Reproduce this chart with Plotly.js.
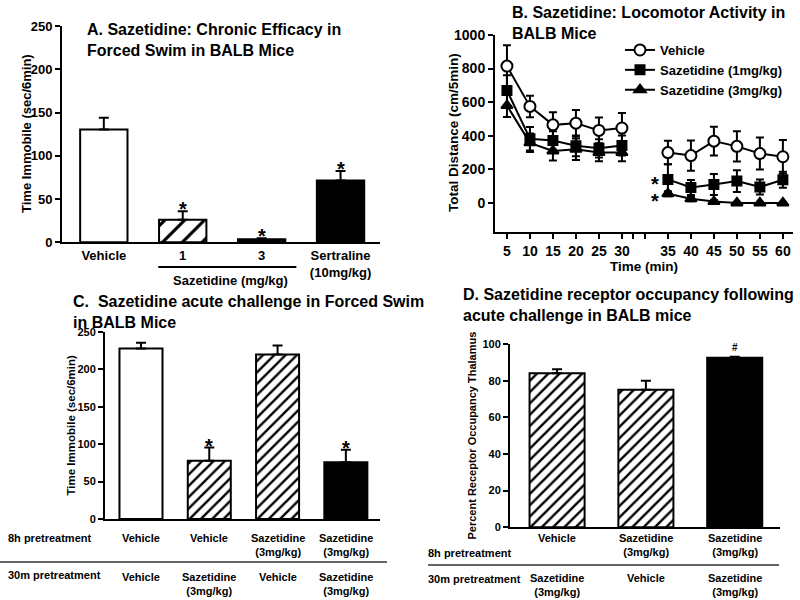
<!DOCTYPE html>
<html>
<head>
<meta charset="utf-8">
<script src="https://cdn.plot.ly/plotly-3.0.1.min.js"></script>
<style>html,body{margin:0;padding:0;background:#fff;}#chart{width:800px;height:600px;}</style>
</head>
<body>
<div id="chart"></div>
<script>
// ---------- Panel A data ----------
const catsA = ['Vehicle', '1', '3', 'Sertraline<br>(10mg/kg)'];
const meanA = [130.5, 26, 3.5, 71.5];
const errA = [13.5, 10, 1.2, 11];
const fillA = ['white', 'white', 'black', 'black'];
const hatchA = ['', '/', '', ''];
const sigA = ['', '*', '*', '*'];

// ---------- Panel B data ----------
const timesB = [5, 10, 15, 20, 25, 30, 35, 40, 45, 50, 55, 60];
const vehB = [815, 575, 465, 475, 432, 446, 300, 282, 368, 337, 294, 275];
const vehErrB = [124, 64, 75, 79, 77, 90, 70, 90, 85, 90, 95, 100];
const saz1B = [670, 382, 372, 340, 325, 342, 140, 92, 110, 130, 95, 138];
const saz1ErrB = [90, 70, 55, 62, 55, 60, 90, 45, 62, 65, 45, 48];
const saz3B = [580, 358, 310, 320, 300, 300, 55, 25, 8, 0, 0, 0];
const saz3ErrB = [68, 55, 58, 64, 52, 52, 15, 15, 8, 3, 3, 3];
const namesB = ['Vehicle', 'Sazetidine (1mg/kg)', 'Sazetidine (3mg/kg)'];
const sigTimeB = 35;

// ---------- Panel C data ----------
const row8hC = ['Vehicle', 'Vehicle', 'Sazetidine<br>(3mg/kg)', 'Sazetidine<br>(3mg/kg)'];
const row30mC = ['Vehicle', 'Sazetidine<br>(3mg/kg)', 'Vehicle', 'Sazetidine<br>(3mg/kg)'];
const meanC = [228, 78, 220, 76];
const errC = [7.5, 17.5, 12, 16.5];
const fillC = ['white', 'white', 'white', 'black'];
const hatchC = ['', '/', '/', ''];
const sigC = ['', '*', '', '*'];

// ---------- Panel D data ----------
const row8hD = ['Vehicle', 'Sazetidine<br>(3mg/kg)', 'Sazetidine<br>(3mg/kg)'];
const row30mD = ['Sazetidine<br>(3mg/kg)', 'Vehicle', 'Sazetidine<br>(3mg/kg)'];
const meanD = [84, 75, 92.5];
const errD = [2.2, 5, 0.6];
const fillD = ['white', 'white', 'black'];
const hatchD = ['/', '/', ''];
const sigD = ['', '', '#'];

const rowLabels = ['8h pretreatment', '30m pretreatment'];

// ---------- helpers ----------
const FAM = 'Arial, "Liberation Sans", sans-serif';
const bf = (s) => ({family: FAM, size: s, color: 'black', weight: 'bold'});
const idx = (a) => a.map((_, i) => i);
const px = (p) => p / 800;
const py = (p) => 1 - p / 600;
// time axis has a break between 30 and 35 (one empty slot)
const tpos = (t) => (t <= 30 ? t : t + 5);

const traces = [];
function bars(means, errs, fills, hatch, xa, ya, hsize, hsol, width) {
  means.forEach((m, i) => {
    const mk = {color: fills[i], line: {color: 'black', width: 2}};
    if (hatch[i]) {
      mk.pattern = {shape: hatch[i], fgcolor: 'black', bgcolor: 'white', size: hsize,
        solidity: hsol, fillmode: 'replace'};
    }
    traces.push({
      type: 'bar', x: [i], y: [m], xaxis: xa, yaxis: ya, width: width, showlegend: false,
      marker: mk,
      error_y: {type: 'data', symmetric: false, array: [errs[i]], arrayminus: [0],
        color: 'black', thickness: 2, width: 5}
    });
  });
}
bars(meanA, errA, fillA, hatchA, 'x', 'y', 14, 0.22, 0.6);
bars(meanC, errC, fillC, hatchC, 'x3', 'y3', 8, 0.3, 0.63);
bars(meanD, errD, fillD, hatchD, 'x4', 'y4', 8, 0.3, 0.62);

// Panel B line traces (drawn 3mg, 1mg, vehicle so vehicle is on top)
const seriesB = [
  {y: saz3B, e: saz3ErrB, name: namesB[2], sym: 'triangle-up', size: 10, fill: 'black', rank: 3},
  {y: saz1B, e: saz1ErrB, name: namesB[1], sym: 'square', size: 9, fill: 'black', rank: 2},
  {y: vehB, e: vehErrB, name: namesB[0], sym: 'circle', size: 11, fill: 'white', rank: 1}
];
seriesB.forEach((s) => {
  [[0, 6], [6, 12]].forEach((seg, k) => {
    traces.push({
      type: 'scatter', mode: 'lines+markers', x: timesB.slice(seg[0], seg[1]).map(tpos),
      y: s.y.slice(seg[0], seg[1]), xaxis: 'x2', yaxis: 'y2',
      name: s.name, showlegend: k === 0, legendrank: s.rank,
      line: {color: 'black', width: 2},
      marker: {symbol: s.sym, size: s.size, color: s.fill, line: {color: 'black', width: 2}},
      error_y: {type: 'data', array: s.e.slice(seg[0], seg[1]), color: 'black', thickness: 2, width: 4}
    });
  });
});

// ---------- annotations ----------
const ann = [];
function title(text, x, y) {
  ann.push({xref: 'paper', yref: 'paper', x: px(x), y: py(y), xanchor: 'left', yanchor: 'top',
    align: 'left', text: text, showarrow: false, font: bf(16)});
}
title('A. Sazetidine: Chronic Efficacy in<br>Forced Swim in BALB Mice', 85, 19);
title('B. Sazetidine: Locomotor Activity in<br>BALB Mice', 510, 2);
title('C.  Sazetidine acute challenge in Forced Swim<br>in BALB Mice', 71, 291);
title('D. Sazetidine receptor occupancy following<br>acute challenge in BALB mice', 461, 284);

function ytitle(text, x, y, size) {
  ann.push({xref: 'paper', yref: 'paper', x: px(x), y: py(y), xanchor: 'center', yanchor: 'middle',
    textangle: -90, text: text, showarrow: false, font: bf(size)});
}
ytitle('Time Immobile (sec/6min)', 26, 134, 13);
ytitle('Total Distance (cm/5min)', 453, 133, 13.5);
ytitle('Time Immobile (sec/6min)', 71, 425.5, 11.5);
ytitle('Percent Receptor Occupancy Thalamus', 471, 435.5, 11);

function stars(sig, means, errs, xa, ya, size, anchor, shift) {
  sig.forEach((s, i) => {
    if (!s) return;
    ann.push({xref: xa, yref: ya, x: i, y: means[i] + errs[i], text: s, showarrow: false,
      yanchor: anchor, yshift: shift, font: bf(size)});
  });
}
stars(sigA, meanA, errA, 'x', 'y', 20, 'bottom', -11);
stars(sigC, meanC, errC, 'x3', 'y3', 20, 'bottom', -11);
stars(sigD, meanD, errD, 'x4', 'y4', 10, 'middle', 9);

// Panel B significance stars at t = 35: one two-line text, one star per treated series
{
  const i = timesB.indexOf(sigTimeB);
  const mid = (saz1B[i] + saz3B[i]) / 2;
  ann.push({xref: 'x2', yref: 'y2', x: tpos(sigTimeB), y: mid, showarrow: false,
    text: '<span style="font-size:20px">*</span><br><span style="font-size:20px">*</span>',
    xshift: -13, yshift: -6, yanchor: 'middle', font: bf(13)});
}

// Panel A group label
ann.push({xref: 'x', yref: 'paper', x: 1.6, y: py(281), text: 'Sazetidine (mg/kg)', showarrow: false,
  yanchor: 'middle', font: bf(13)});

// Panels C and D row labels
function rows(r1, r2, xa, y1, y2) {
  r1.forEach((t, i) => ann.push({xref: xa, yref: 'paper', x: i, y: py(y1), yanchor: 'top',
    text: t, showarrow: false, font: bf(11)}));
  r2.forEach((t, i) => ann.push({xref: xa, yref: 'paper', x: i, y: py(y2), yanchor: 'top',
    text: t, showarrow: false, font: bf(11)}));
}
rows(row8hC, row30mC, 'x3', 530, 569);
rows(row8hD, row30mD, 'x4', 530, 570);
function rowLab(text, x, y) {
  ann.push({xref: 'paper', yref: 'paper', x: px(x), y: py(y), xanchor: 'left', yanchor: 'middle',
    text: text, showarrow: false, font: bf(11)});
}
rowLab(rowLabels[0], 6, 538);
rowLab(rowLabels[1], 6, 575);
rowLab(rowLabels[0], 426, 553);
rowLab(rowLabels[1], 426, 579);

// ---------- shapes ----------
const shapes = [
  {type: 'line', xref: 'x', yref: 'paper', x0: 0.69, x1: 2.44, y0: py(267), y1: py(267),
    line: {color: 'black', width: 2}},
  {type: 'line', xref: 'paper', yref: 'paper', x0: 0, x1: px(387), y0: py(562), y1: py(562),
    line: {color: '#333', width: 1.5}},
  {type: 'line', xref: 'paper', yref: 'paper', x0: px(428), x1: px(779), y0: py(565), y1: py(565),
    line: {color: '#333', width: 1.5}}
];

// ---------- axes ----------
const base = {showline: true, linewidth: 2, linecolor: 'black', showgrid: false, zeroline: false,
  ticks: 'outside', ticklen: 5, tickwidth: 2, tickcolor: 'black', fixedrange: true};

const layout = {
  width: 800, height: 600, margin: {l: 0, r: 0, t: 0, b: 0, pad: 0},
  paper_bgcolor: 'white', plot_bgcolor: 'white', font: {family: FAM, color: 'black'},
  barmode: 'overlay',
  showlegend: true,
  legend: {x: px(620), y: py(35), xanchor: 'left', yanchor: 'top', font: bf(13),
    bgcolor: 'rgba(0,0,0,0)', tracegroupgap: 0, itemwidth: 30},
  xaxis: Object.assign({}, base, {domain: [px(62), px(380)], range: [-0.53, 3.5], anchor: 'y',
    tickvals: idx(catsA), ticktext: catsA, ticks: '', tickfont: bf(13)}),
  yaxis: Object.assign({}, base, {domain: [py(242.3), py(26)], range: [0, 250], anchor: 'x',
    dtick: 50, tickfont: bf(13)}),
  xaxis2: Object.assign({}, base, {domain: [px(495), px(793)], range: [2.4, 67.2], anchor: 'y2',
    tickvals: timesB.map(tpos).concat([32.5, 35]),
    ticktext: timesB.map(String).concat(['', '']), tickfont: bf(14),
    title: {text: 'Time (min)', font: bf(13.5), standoff: 0}}),
  yaxis2: Object.assign({}, base, {domain: [py(232), py(35)], range: [-173, 1000], anchor: 'x2',
    tickvals: [0, 200, 400, 600, 800, 1000], tickfont: bf(14)}),
  xaxis3: Object.assign({}, base, {domain: [px(105), px(380)], range: [-0.527, 3.5], anchor: 'y3',
    showticklabels: false, ticks: ''}),
  yaxis3: Object.assign({}, base, {domain: [py(519), py(332)], range: [0, 250], anchor: 'x3',
    dtick: 50, tickfont: bf(11)}),
  xaxis4: Object.assign({}, base, {domain: [px(510), px(780)], range: [-0.53, 2.51], anchor: 'y4',
    showticklabels: false, ticks: ''}),
  yaxis4: Object.assign({}, base, {domain: [py(527.3), py(344)], range: [0, 100], anchor: 'x4',
    dtick: 20, tickfont: bf(11)}),
  annotations: ann,
  shapes: shapes
};

Plotly.newPlot('chart', traces, layout, {staticPlot: true, displayModeBar: false});
</script>
</body>
</html>
